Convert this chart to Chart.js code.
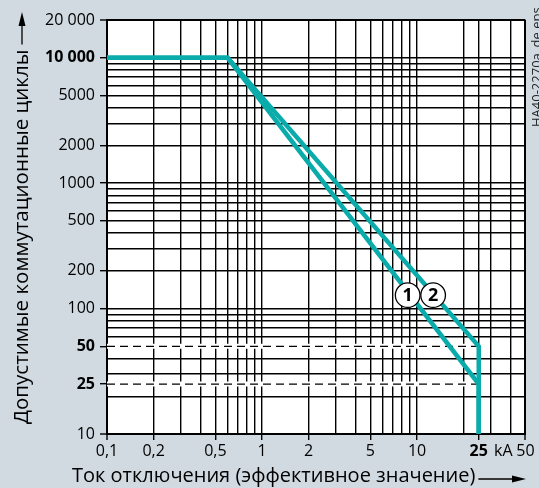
<!DOCTYPE html>
<html>
<head>
<meta charset="utf-8">
<script src="https://cdn.jsdelivr.net/npm/chart.js"></script>
<title>Коммутационные циклы</title>
<style>
  html, body { margin: 0; padding: 0; background: #d1dae1; }
  #wrap { width: 539px; height: 488px; position: relative; }
</style>
</head>
<body>
<div id="wrap"><canvas id="chart" width="539" height="488"></canvas></div>
<script>
// curve 1 and curve 2 (kA, cycles)
const curve1X = [0.1, 0.6, 25, 25];
const curve1Y = [10000, 10000, 25, 10];
const curve2X = [0.1, 0.6, 25, 25];
const curve2Y = [10000, 10000, 50, 10];

// dashed helper lines
const refLevels = [50, 25];
const refFromX = 0.1;
const refToX = 25;

// numbered circles sitting on the curves
const markerX = [8.7, 12.7];
const markerY = [128, 128];
const markerText = ['1', '2'];

// grid lines
const xGrid = [0.1, 0.2, 0.3, 0.4, 0.5, 0.6, 0.7, 0.8, 0.9, 1, 2, 3, 4, 5, 6, 7, 8, 9, 10, 20, 25, 30, 40, 50];
const yGrid = [10, 20, 30, 40, 60, 70, 80, 90, 100, 200, 300, 400, 500, 600, 700, 800, 900,
               1000, 2000, 3000, 4000, 5000, 6000, 7000, 8000, 9000, 10000, 20000];

// tick labels
const xTickValues = [0.1, 0.2, 0.5, 1, 2, 5, 10, 25, 36, 50];
const xTickLabels = ['0,1', '0,2', '0,5', '1', '2', '5', '10', '25', 'kA', '50'];
const xBold = [25];
const xUnit = 36;
const yTickValues = [10, 25, 50, 100, 200, 500, 1000, 2000, 5000, 10000, 20000];
const yTickLabels = ['10', '25', '50', '100', '200', '500', '1000', '2000', '5000', '10 000', '20 000'];
const yBold = [25, 50, 10000];

const xTitle = 'Ток отключения (эффективное значение)';
const yTitle = 'Допустимые коммутационные циклы';
const sideNote = 'HA40-2270a_de.eps';

const TEAL = '#0aabab';
const BG = '#d1dae1';
const FONT = "'Open Sans', 'Noto Sans', sans-serif";

const pts = (xs, ys) => xs.map((x, i) => ({ x: x, y: ys[i] }));
const merge = (a, b) => Array.from(new Set(a.concat(b))).sort((p, q) => p - q);

const datasets = [
    {
        label: 'markers',
        data: pts(markerX, markerY),
        showLine: false,
        pointRadius: 12.3,
        pointBackgroundColor: '#fff',
        pointBorderColor: '#000',
        pointBorderWidth: 1.3,
        order: 0
    },
    {
        label: '1',
        data: pts(curve1X, curve1Y),
        showLine: true,
        borderColor: TEAL,
        borderWidth: 4.5,
        borderJoinStyle: 'miter',
        pointRadius: 0,
        order: 1
    },
    {
        label: '2',
        data: pts(curve2X, curve2Y),
        showLine: true,
        borderColor: TEAL,
        borderWidth: 4.5,
        borderJoinStyle: 'miter',
        pointRadius: 0,
        order: 1
    }
];
refLevels.forEach(lv => {
    datasets.push({
        label: 'ref' + lv,
        data: [{ x: refFromX, y: lv }, { x: refToX, y: lv }],
        showLine: true,
        borderColor: '#000',
        borderWidth: 1.4,
        borderDash: [8, 5],
        pointRadius: 0,
        order: 2
    });
    datasets.push({
        label: 'band' + lv,
        data: [{ x: refFromX, y: lv }, { x: refToX, y: lv }],
        showLine: true,
        borderColor: '#fff',
        borderWidth: 5,
        pointRadius: 0,
        order: 3
    });
});

const bgPlugin = {
    id: 'bg',
    beforeDraw(chart) {
        const { ctx, chartArea: a } = chart;
        ctx.save();
        ctx.fillStyle = BG;
        ctx.fillRect(0, 0, chart.width, chart.height);
        ctx.fillStyle = '#fff';
        ctx.fillRect(a.left, a.top, a.right - a.left, a.bottom - a.top);
        ctx.restore();
    }
};

const labelsPlugin = {
    id: 'labels',
    afterDatasetsDraw(chart) {
        const { ctx, scales } = chart;
        ctx.save();
        ctx.fillStyle = '#000';
        ctx.font = 'bold 18px ' + FONT;
        ctx.textAlign = 'center';
        ctx.textBaseline = 'middle';
        markerText.forEach((t, i) => {
            ctx.fillText(t, scales.x.getPixelForValue(markerX[i]), scales.y.getPixelForValue(markerY[i]) + 1);
        });
        ctx.restore();
    },
    afterDraw(chart) {
        const ctx = chart.ctx;
        ctx.save();
        ctx.fillStyle = '#000';
        ctx.strokeStyle = '#000';
        ctx.lineWidth = 1.3;
        ctx.font = '20px ' + FONT;
        ctx.textBaseline = 'middle';
        ctx.textAlign = 'left';

        // x title with arrow
        const xw = ctx.measureText(xTitle).width;
        ctx.fillText(xTitle, 72, 476);
        ctx.beginPath();
        ctx.moveTo(72 + xw + 3, 479);
        ctx.lineTo(514, 479);
        ctx.stroke();
        ctx.beginPath();
        ctx.moveTo(526, 479);
        ctx.lineTo(512, 475.5);
        ctx.lineTo(512, 482.5);
        ctx.closePath();
        ctx.fill();

        // y title with arrow
        ctx.save();
        ctx.translate(22, 424);
        ctx.rotate(-Math.PI / 2);
        ctx.font = '20.5px ' + FONT;
        const yw = ctx.measureText(yTitle).width;
        ctx.fillText(yTitle, 0, 0);
        ctx.beginPath();
        ctx.moveTo(yw + 5, 0);
        ctx.lineTo(400, 0);
        ctx.stroke();
        ctx.beginPath();
        ctx.moveTo(412, 0);
        ctx.lineTo(398, -3.5);
        ctx.lineTo(398, 3.5);
        ctx.closePath();
        ctx.fill();
        ctx.restore();

        // file note on the right
        ctx.save();
        ctx.translate(541, 127);
        ctx.rotate(-Math.PI / 2);
        ctx.font = '13px ' + FONT;
        ctx.fillStyle = '#222';
        ctx.textBaseline = 'alphabetic';
        ctx.fillText(sideNote, 0, 0);
        ctx.restore();

        ctx.restore();
    }
};

const edgeWidth = (val, lo, hi) => (val === lo || val === hi) ? 2 : 1.4;

new Chart(document.getElementById('chart'), {
    type: 'scatter',
    data: { datasets: datasets },
    options: {
        responsive: false,
        animation: false,
        devicePixelRatio: 1,
        layout: { padding: { top: 20, right: 13, left: 0, bottom: 0 } },
        plugins: { legend: { display: false }, tooltip: { enabled: false } },
        scales: {
            x: {
                type: 'logarithmic',
                min: 0.1,
                max: 50,
                afterBuildTicks: axis => { axis.ticks = merge(xGrid, xTickValues).map(v => ({ value: v })); },
                afterFit: scale => { scale.height = 54; },
                border: { display: true, color: '#000', width: 2 },
                grid: {
                    color: c => (c.tick && xGrid.includes(c.tick.value)) ? '#000' : 'rgba(0,0,0,0)',
                    lineWidth: c => c.tick ? edgeWidth(c.tick.value, 0.1, 50) : 1.4,
                    tickColor: c => (c.tick && xTickValues.includes(c.tick.value) && c.tick.value !== xUnit) ? '#000' : 'rgba(0,0,0,0)',
                    tickWidth: 1.4,
                    tickLength: 6
                },
                ticks: {
                    autoSkip: false,
                    maxRotation: 0,
                    padding: 2,
                    color: '#000',
                    font: c => ({ family: FONT, size: 16, weight: (c.tick && xBold.includes(c.tick.value)) ? 'bold' : 'normal' }),
                    callback: v => { const i = xTickValues.indexOf(v); return i >= 0 ? xTickLabels[i] : ''; }
                }
            },
            y: {
                type: 'logarithmic',
                min: 10,
                max: 20000,
                afterBuildTicks: axis => { axis.ticks = merge(yGrid, yTickValues).map(v => ({ value: v })); },
                afterFit: scale => { scale.width = 107; },
                border: { display: true, color: '#000', width: 2 },
                grid: {
                    color: c => (c.tick && yGrid.includes(c.tick.value)) ? '#000' : 'rgba(0,0,0,0)',
                    lineWidth: c => c.tick ? edgeWidth(c.tick.value, 10, 20000) : 1.4,
                    tickColor: c => (c.tick && yTickValues.includes(c.tick.value)) ? '#000' : 'rgba(0,0,0,0)',
                    tickWidth: 1.4,
                    tickLength: 7
                },
                ticks: {
                    autoSkip: false,
                    padding: 5,
                    color: '#000',
                    font: c => ({ family: FONT, size: 16, weight: (c.tick && yBold.includes(c.tick.value)) ? 'bold' : 'normal' }),
                    callback: v => { const i = yTickValues.indexOf(v); return i >= 0 ? yTickLabels[i] : ''; }
                }
            }
        }
    },
    plugins: [bgPlugin, labelsPlugin]
});
</script>
</body>
</html>
